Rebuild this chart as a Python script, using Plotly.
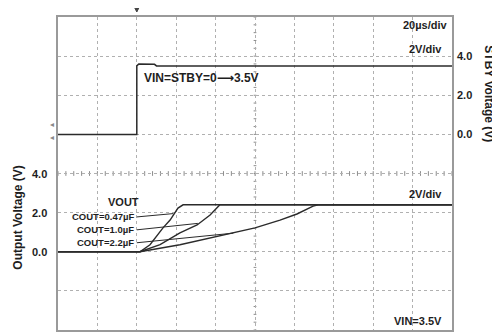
import plotly.graph_objects as go

# ---- data (time in µs, voltage in V) ----
t_stby = [0, 40, 40, 41, 49, 50, 200]
v_stby = [0, 0, 3.5, 3.6, 3.58, 3.5, 3.5]

t_047 = [0, 41.6, 46.7, 53.3, 56.9, 60.9, 63.5, 200]
v_047 = [0, 0, 0.36, 1.22, 1.62, 2.23, 2.4, 2.4]

t_10 = [0, 41.6, 51.8, 61.9, 70.6, 77.2, 82.2, 200]
v_10 = [0, 0, 0.36, 0.96, 1.37, 1.88, 2.4, 2.4]

t_22 = [0, 41.6, 61.9, 87.3, 100, 112.7, 121.3, 129.5, 132, 200]
v_22 = [0, 0, 0.36, 0.91, 1.22, 1.62, 1.93, 2.33, 2.4, 2.4]

tick_vals = [0, 2, 4]
tick_text = ["0.0", "2.0", "4.0"]

FONT = "Liberation Sans, Arial, sans-serif"
TRACE = "#2b2b2b"
GRID = "#b0b0b0"
FRAME = "#9a9a9a"
TXT = "#1e1e1e"

fig = go.Figure()
fig.add_trace(go.Scatter(x=t_stby, y=v_stby, yaxis="y2", mode="lines",
                         line=dict(color=TRACE, width=1.5), name="STBY"))
for tt, vv, nm in [(t_047, v_047, "0.47µF"), (t_10, v_10, "1.0µF"), (t_22, v_22, "2.2µF")]:
    fig.add_trace(go.Scatter(x=tt, y=vv, mode="lines",
                             line=dict(color=TRACE, width=1.4), name=nm))

# the page body has an 8px default margin: margins are reduced by 8px to compensate
fig.update_layout(
    width=500, height=333,
    margin=dict(l=50, r=56, t=7, b=11),
    paper_bgcolor="white", plot_bgcolor="white",
    showlegend=False,
    font=dict(family=FONT, color=TXT, size=11),
    xaxis=dict(range=[0, 200], tickmode="linear", tick0=0, dtick=20,
               showticklabels=False, ticks="", showline=True, mirror=True,
               linecolor=FRAME, linewidth=2, showgrid=True, gridcolor=GRID,
               griddash="dot", gridwidth=1, zeroline=False),
    yaxis=dict(range=[-4, 12], tickmode="linear", tick0=-4, dtick=2,
               showticklabels=False, ticks="",
               showline=True, mirror=True, linecolor=FRAME, linewidth=2,
               showgrid=True, gridcolor=GRID, griddash="dot", gridwidth=1,
               zeroline=False),
    yaxis2=dict(range=[-10, 6], overlaying="y", side="right", tickmode="array",
                tickvals=tick_vals, ticktext=["<b>%s</b>" % s for s in tick_text],
                ticks="", showgrid=False, zeroline=False, ticklabelstandoff=4,
                tickfont=dict(size=11, color=TXT)),
)

ann = []
def txt(x, y, s, xanchor="center", size=11, **kw):
    ann.append(dict(x=x, y=y, xref="x", yref="y", text=s, showarrow=False,
                    xanchor=xanchor, yanchor="middle",
                    font=dict(size=size, family=FONT, color=TXT), **kw))

# left tick labels (Output Voltage axis)
for v, s in zip(tick_vals, tick_text):
    ann.append(dict(x=-0.022, y=v, xref="paper", yref="y", text="<b>%s</b>" % s,
                    showarrow=False, xanchor="right", yanchor="middle",
                    font=dict(size=11, color=TXT)))

ARROW = "<span style='font-family:DejaVu Sans'>⟶</span>"
txt(199, 11.57, "<b>20µs/div</b>", xanchor="right")
txt(196, 10.36, "<b>2V/div</b>", xanchor="right")
txt(42.4, 8.88, "<b>VIN=STBY=0" + ARROW + "3.5V</b>", xanchor="left", size=12)
txt(196, 2.94, "<b>2V/div</b>", xanchor="right")
txt(196, -3.55, "<b>VIN=3.5V</b>", xanchor="right")
txt(33, 2.54, "<b>VOUT</b>", size=11)
txt(39.5, 1.78, "<b>COUT=0.47µF</b>", xanchor="right", size=9.5)
txt(39.5, 1.12, "<b>COUT=1.0µF</b>", xanchor="right", size=9.5)
txt(39.5, 0.46, "<b>COUT=2.2µF</b>", xanchor="right", size=9.5)

# axis titles
ann.append(dict(x=-0.1015, y=0.359, xref="paper", yref="paper", text="<b>Output Voltage (V)</b>",
                textangle=-90, showarrow=False, xanchor="center", yanchor="middle",
                font=dict(size=12, color=TXT)))
ann.append(dict(x=1.094, y=0.756, xref="paper", yref="paper", text="<b>STBY Voltage (V)</b>",
                textangle=90, showarrow=False, xanchor="center", yanchor="middle",
                font=dict(size=12, color=TXT)))
# scope channel markers
ann.append(dict(x=-0.025, y=0.676, xref="paper", yref="paper", text="◂", showarrow=False,
                font=dict(size=8, color="#888")))
ann.append(dict(x=-0.025, y=0.616, xref="paper", yref="paper", text="◂", showarrow=False,
                font=dict(size=8, color="#888")))
fig.update_layout(annotations=ann)

shapes = []
# trigger marker above the frame (pixel-sized triangle)
shapes.append(dict(type="path", xref="x", yref="paper", xsizemode="pixel", ysizemode="pixel",
                   xanchor=40, yanchor=1, path="M-3,11 L3,11 L0,5 Z",
                   fillcolor="#444", line=dict(color="#444", width=1)))
# leader lines from labels to curves
leaders = [(40, 1.78, 58.5, 1.95), (40, 1.12, 71.0, 1.45), (40, 0.46, 89.0, 0.95)]
for a, b, c, d in leaders:
    shapes.append(dict(type="line", xref="x", yref="y", x0=a, y0=b, x1=c, y1=d,
                       line=dict(color=TRACE, width=1)))
# centre graticule division marks
TICKC = "#8c8c8c"
for i in range(51):
    xt = i * 4
    shapes.append(dict(type="line", xref="x", yref="y", x0=xt, x1=xt, y0=3.88, y1=4.12,
                       line=dict(color=TICKC, width=1), layer="below"))
for i in range(41):
    yt = -4 + i * 0.4
    shapes.append(dict(type="line", xref="x", yref="y", x0=99.3, x1=100.7, y0=yt, y1=yt,
                       line=dict(color=TICKC, width=1), layer="below"))
fig.update_layout(shapes=shapes)

fig.write_html("out.html")
